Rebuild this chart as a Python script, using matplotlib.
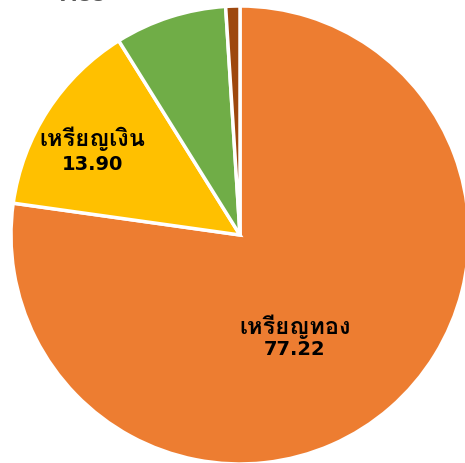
import matplotlib
matplotlib.use("Agg")
import matplotlib.pyplot as plt
from matplotlib import font_manager
from matplotlib.ft2font import FT2Font

# medal share (percent)
names = ["เหรียญทอง", "เหรียญเงิน", "เหรียญทองแดง", "อื่นๆ"]
values = [77.22, 13.90, 7.88, 1.00]
colors = ["#ED7D31", "#FFC000", "#70AD47", "#9E480E"]

# find a font that can draw Thai
thaiFont = None
for f in font_manager.fontManager.ttflist:
    try:
        if FT2Font(f.fname).get_char_index(ord("ห")) != 0:
            thaiFont = f.name
            break
    except Exception:
        pass

families = ["DejaVu Sans", thaiFont] if thaiFont else ["DejaVu Sans"]
plt.rcParams["font.family"] = families

fig = plt.figure(figsize=(4.65, 4.63), dpi=100)
ax = fig.add_axes([11 / 465, -1 / 463, 458 / 465, 458 / 463])
ax.pie(values, colors=colors, startangle=90, counterclock=False,
       wedgeprops={"edgecolor": "white", "linewidth": 2.5})
ax.set_xlim(-1, 1)
ax.set_ylim(-1, 1)
ax.set_aspect("equal")
ax.axis("off")

# label lines: name above, value below
ax.text(0.24, -0.40, names[0], ha="center", va="center", fontsize=17, fontweight="bold")
ax.text(0.24, -0.50, "%.2f" % values[0], ha="center", va="center", fontsize=14, fontweight="bold")
ax.text(-0.646, 0.42, names[1], ha="center", va="center", fontsize=17, fontweight="bold")
ax.text(-0.646, 0.31, "%.2f" % values[1], ha="center", va="center", fontsize=14, fontweight="bold")
# label of the green slice, only its foot shows at the top edge
ax.text(-0.69, 1.02, "%.2f" % values[2], ha="center", va="baseline",
        fontsize=14, fontweight="bold", color="#595959", clip_on=False)

fig.savefig("out.png", dpi=100)
